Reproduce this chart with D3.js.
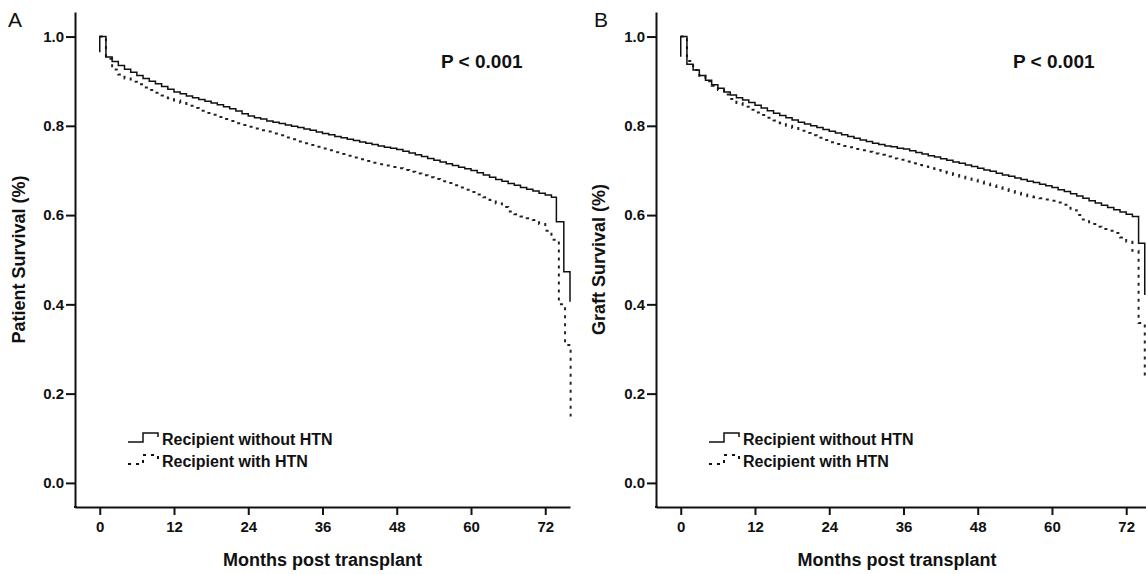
<!DOCTYPE html>
<html><head><meta charset="utf-8">
<script src="https://cdn.jsdelivr.net/npm/d3@7"></script>
<style>
body{margin:0;background:#fff;}
svg{display:block;}
text{font-family:"Liberation Sans",Arial,sans-serif;fill:#111;}
</style></head>
<body><svg id="chart" width="1146" height="574"></svg>
<script>
// ---------- DATA ----------
const xTicks = [0, 12, 24, 36, 48, 60, 72];
const yTicks = [0.0, 0.2, 0.4, 0.6, 0.8, 1.0];
const seriesNames = ["Recipient without HTN", "Recipient with HTN"];
const panelLetters = ["A", "B"];
const yTitles = ["Patient Survival (%)", "Graft Survival (%)"];
const xTitle = "Months post transplant";
const pText = "P < 0.001";

// Panel A - without HTN (solid)
const aNoTime = [0,0,1,2,3,4,5,6,7,8,9,10,11,12,13,14,15,16,17,18,19,20,21,22,23,24,25,26,27,28,29,30,31,32,33,34,35,36,37,38,39,40,41,42,43,44,45,46,47,48,49,50,51,52,53,54,55,56,57,58,59,60,61,62,63,64,65,66,67,68,69,70,71,72,73,73.8,75,76];
const aNoSurv = [0.965,1.000,0.954,0.944,0.935,0.927,0.920,0.913,0.906,0.900,0.894,0.888,0.882,0.876,0.872,0.867,0.863,0.859,0.855,0.851,0.847,0.843,0.838,0.833,0.827,0.822,0.818,0.815,0.811,0.808,0.805,0.802,0.799,0.796,0.793,0.790,0.786,0.783,0.780,0.776,0.773,0.770,0.767,0.764,0.761,0.758,0.755,0.752,0.750,0.747,0.743,0.739,0.735,0.731,0.727,0.723,0.719,0.715,0.711,0.707,0.704,0.700,0.695,0.690,0.685,0.680,0.676,0.671,0.667,0.662,0.658,0.654,0.649,0.645,0.640,0.585,0.473,0.406];
// Panel A - with HTN (dotted)
const aHtnTime = [0,1,2,3,4,5,6,7,8,9,10,11,12,13,14,15,16,17,18,19,20,21,22,23,24,25,26,27,28,29,30,31,32,33,34,35,36,37,38,39,40,41,42,43,44,45,46,47,48,49,50,51,52,53,54,55,56,57,58,59,60,61,62,63,64,65,66,67,68,69,70,71,72,73,74.2,75.2,76.1];
const aHtnSurv = [1.000,0.950,0.926,0.915,0.906,0.899,0.893,0.886,0.880,0.874,0.868,0.862,0.857,0.851,0.845,0.840,0.834,0.829,0.825,0.820,0.815,0.811,0.806,0.802,0.798,0.794,0.790,0.787,0.783,0.779,0.774,0.770,0.765,0.761,0.757,0.753,0.749,0.745,0.741,0.737,0.733,0.729,0.725,0.721,0.717,0.714,0.711,0.708,0.705,0.701,0.697,0.693,0.689,0.685,0.681,0.676,0.672,0.667,0.662,0.657,0.652,0.646,0.640,0.634,0.626,0.618,0.608,0.602,0.597,0.593,0.589,0.580,0.565,0.545,0.400,0.309,0.149];
// Panel B - without HTN (solid)
const bNoTime = [0,0,1,2,3,4,5,6,7,8,9,10,11,12,13,14,15,16,17,18,19,20,21,22,23,24,25,26,27,28,29,30,31,32,33,34,35,36,37,38,39,40,41,42,43,44,45,46,47,48,49,50,51,52,53,54,55,56,57,58,59,60,61,62,63,64,65,66,67,68,69,70,71,72,73,74,75];
const bNoSurv = [0.955,1.000,0.938,0.925,0.913,0.902,0.892,0.884,0.876,0.869,0.863,0.858,0.852,0.846,0.840,0.834,0.828,0.823,0.818,0.813,0.808,0.804,0.800,0.796,0.792,0.788,0.784,0.780,0.776,0.772,0.768,0.765,0.761,0.758,0.755,0.753,0.750,0.748,0.744,0.740,0.737,0.733,0.730,0.726,0.723,0.719,0.716,0.712,0.709,0.705,0.701,0.698,0.694,0.690,0.687,0.683,0.680,0.676,0.673,0.669,0.666,0.662,0.657,0.653,0.648,0.643,0.638,0.632,0.627,0.622,0.617,0.612,0.607,0.602,0.597,0.537,0.421];
// Panel B - with HTN (dotted)
const bHtnTime = [0,1,2,3,4,5,6,7,8,9,10,11,12,13,14,15,16,17,18,19,20,21,22,23,24,25,26,27,28,29,30,31,32,33,34,35,36,37,38,39,40,41,42,43,44,45,46,47,48,49,50,51,52,53,54,55,56,57,58,59,60,61,62,63,64,65,66,67,68,69,70,71,72,73,74,75];
const bHtnSurv = [1.000,0.945,0.925,0.912,0.900,0.890,0.880,0.870,0.860,0.851,0.843,0.836,0.830,0.824,0.818,0.812,0.806,0.800,0.795,0.789,0.784,0.779,0.773,0.768,0.763,0.759,0.755,0.752,0.748,0.745,0.742,0.738,0.735,0.731,0.727,0.724,0.720,0.716,0.712,0.709,0.705,0.701,0.697,0.694,0.690,0.686,0.682,0.679,0.675,0.671,0.667,0.663,0.659,0.654,0.650,0.646,0.642,0.640,0.638,0.635,0.632,0.628,0.623,0.611,0.600,0.590,0.580,0.574,0.569,0.565,0.560,0.550,0.540,0.520,0.358,0.238];

// ---------- LAYOUT ----------
const svg = d3.select("#chart");
const panels = [
  {left:75, right:570, xDomain:[-4,76], yTitleX:19, letterX:8, pX:441,
   solid:[aNoTime,aNoSurv], dotted:[aHtnTime,aHtnSurv]},
  {left:656, right:1146, xDomain:[-4,75.2], yTitleX:599, letterX:594, pX:1013,
   solid:[bNoTime,bNoSurv], dotted:[bHtnTime,bHtnSurv]}
];
const plotTop = 12, plotBottom = 507;

panels.forEach((p, i) => {
  const g = svg.append("g");
  const x = d3.scaleLinear().domain(p.xDomain).range([p.left, p.right]);
  const y = d3.scaleLinear().domain([-0.054, 1.055]).range([plotBottom, plotTop]);

  const ya = g.append("g").attr("transform", `translate(${p.left},0)`)
    .call(d3.axisLeft(y).tickValues(yTicks).tickFormat(d3.format(".1f")).tickSize(9).tickSizeOuter(0).tickPadding(2));
  const xa = g.append("g").attr("transform", `translate(0,${plotBottom})`)
    .call(d3.axisBottom(x).tickValues(xTicks).tickSize(8).tickSizeOuter(0).tickPadding(6));
  [ya, xa].forEach(a => {
    a.select(".domain").attr("stroke", "#111").attr("stroke-width", 2);
    a.selectAll(".tick line").attr("stroke", "#111").attr("stroke-width", 2);
    a.selectAll(".tick text").attr("font-size", 15).attr("font-weight", "bold").attr("fill", "#111")
      .style("font-family", "'Liberation Sans', Arial, sans-serif");
  });
  g.append("line").attr("x1", p.left).attr("x2", p.left + 1).attr("y1", plotBottom).attr("y2", plotBottom)
    .attr("stroke", "#111").attr("stroke-width", 2).attr("stroke-linecap", "square");

  const line = d3.line().x(d => x(d[0])).y(d => y(d[1])).curve(d3.curveStepAfter);
  const dotted = d3.zip(p.dotted[0], p.dotted[1]);
  const solid = d3.zip(p.solid[0], p.solid[1]);
  g.append("path").datum(dotted).attr("d", line).attr("fill", "none")
    .attr("stroke", "#222").attr("stroke-width", 2).attr("stroke-dasharray", "3,5");
  g.append("path").datum(solid).attr("d", line).attr("fill", "none")
    .attr("stroke", "#111").attr("stroke-width", 1.5);

  g.append("text").attr("x", (p.left + p.right) / 2 + (i === 0 ? 0 : -4)).attr("y", 566)
    .attr("text-anchor", "middle").attr("font-size", 18).attr("font-weight", "bold").text(xTitle);
  g.append("text").attr("transform", `translate(${p.yTitleX},${(plotTop + plotBottom) / 2}) rotate(-90)`)
    .attr("text-anchor", "middle").attr("dy", "0.35em").attr("font-size", 18).attr("font-weight", "bold").text(yTitles[i]);
  g.append("text").attr("x", p.letterX).attr("y", 27).attr("font-size", 21).text(panelLetters[i]);
  g.append("text").attr("x", p.pX).attr("y", 68).attr("font-size", 19).attr("font-weight", "bold").text(pText);

  const lx = p.left + 53;
  const rows = [{y:439, dash:null}, {y:461, dash:"3,5"}];
  rows.forEach((r, k) => {
    const pts = [[0, 3], [15, 3], [15, -6], [30, -6], [30, -2]];
    g.append("path").attr("d", d3.line()(pts.map(q => [lx + q[0], r.y + q[1]])))
      .attr("fill", "none").attr("stroke", "#111").attr("stroke-width", k === 0 ? 1.5 : 2)
      .attr("stroke-dasharray", r.dash);
    g.append("text").attr("x", lx + 34).attr("y", r.y + 6).attr("font-size", 16).attr("font-weight", "bold")
      .text(seriesNames[k]);
  });
});
</script></body></html>
